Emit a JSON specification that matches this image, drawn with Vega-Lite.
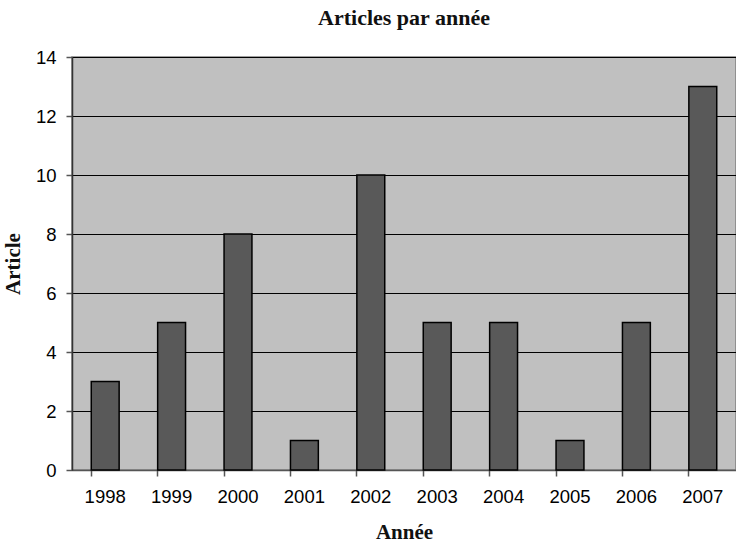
{
  "$schema": "https://vega.github.io/schema/vega-lite/v6.json",
  "autosize": "none",
  "width": 664,
  "height": 413,
  "padding": {"left": 72, "top": 57, "right": 0, "bottom": 76},
  "background": "white",
  "config": {
    "view": {"fill": "#C0C0C0", "stroke": "#808080", "strokeWidth": 1.5}
  },
  "title": {"text": "Articles par année", "font": "Liberation Serif", "fontSize": 22, "fontWeight": "bold", "color": "#111", "offset": 18},
  "data": {"values": [
    {"year": "1998", "n": 3},
    {"year": "1999", "n": 5},
    {"year": "2000", "n": 8},
    {"year": "2001", "n": 1},
    {"year": "2002", "n": 10},
    {"year": "2003", "n": 5},
    {"year": "2004", "n": 5},
    {"year": "2005", "n": 1},
    {"year": "2006", "n": 5},
    {"year": "2007", "n": 13}
  ]},
  "mark": {"type": "bar", "fill": "#595959", "stroke": "black", "strokeWidth": 1.5},
  "encoding": {
    "x": {"field": "year", "type": "ordinal", "title": "Année",
      "scale": {"paddingInner": 0.58, "paddingOuter": 0.29},
      "axis": {"labelAngle": 0, "labelPadding": 11, "labelFont": "Liberation Sans", "labelFontSize": 18.5, "labelColor": "black",
        "titleFont": "Liberation Serif", "titleFontSize": 21, "titleFontWeight": "bold", "titleColor": "#111",
        "bandPosition": 0, "tickColor": "#555", "tickSize": 6, "tickWidth": 1.5, "domainColor": "#555", "domainWidth": 1.5, "titlePadding": 16}},
    "y": {"field": "n", "type": "quantitative", "title": "Article",
      "scale": {"domain": [0, 14]},
      "axis": {"values": [0, 2, 4, 6, 8, 10, 12, 14], "grid": true, "gridColor": "black", "gridWidth": 1, "gridOpacity": 1,
        "labelFont": "Liberation Sans", "labelFontSize": 18.5, "labelColor": "black",
        "titleFont": "Liberation Serif", "titleFontSize": 21, "titleFontWeight": "bold", "titleColor": "#111",
        "tickColor": "#555", "tickSize": 6, "tickWidth": 1.5, "domainColor": "#333", "domainWidth": 1.5, "labelPadding": 10, "titlePadding": 12}}
  }
}
